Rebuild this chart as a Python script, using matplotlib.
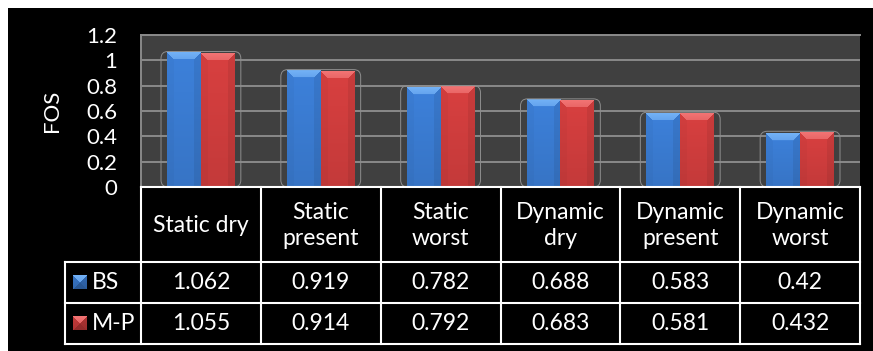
import numpy as np
import matplotlib
matplotlib.use("Agg")
import matplotlib.pyplot as plt
from matplotlib.patches import Rectangle, FancyBboxPatch
from matplotlib.colors import to_rgb

# ---- data ---------------------------------------------------------------
categories = ["Static dry", "Static\npresent", "Static\nworst",
              "Dynamic\ndry", "Dynamic\npresent", "Dynamic\nworst"]
series_names = ["BS", "M-P"]
bs_values = [1.062, 0.919, 0.782, 0.688, 0.583, 0.42]
mp_values = [1.055, 0.914, 0.792, 0.683, 0.581, 0.432]
y_ticks = [0, 0.2, 0.4, 0.6, 0.8, 1.0, 1.2]
y_tick_labels = ["0", "0.2", "0.4", "0.6", "0.8", "1", "1.2"]
y_label = "FOS"

series_values = [bs_values, mp_values]
series_colors = ["#3b7dd4", "#d23e3e"]
series_tops = ["#74b2f7", "#f27474"]

# ---- figure layout (pixels) ------------------------------------------------
W, H = 873, 351
FONT = "Lato"
plt.rcParams["font.family"] = [FONT, "DejaVu Sans"]

fig = plt.figure(figsize=(W / 100, H / 100), dpi=100, facecolor="white")

bg = fig.add_axes([0, 0, 1, 1], zorder=0)
bg.set_xlim(0, W)
bg.set_ylim(H, 0)
bg.axis("off")
bg.add_patch(Rectangle((8, 8), W - 8, H - 8, color="black", lw=0))

L, R, T, B = 141, 860, 35, 187
ax = fig.add_axes([L / W, 1 - B / H, (R - L) / W, (B - T) / H], zorder=1)
ax.set_facecolor("#404040")

n = len(categories)
bar_w = 0.283

grid_col = "#8a8a8a"
ax.set_yticks(y_ticks)
ax.set_yticklabels(y_tick_labels)
ax.set_xticks([])
ax.yaxis.grid(True, color=grid_col, lw=1.4)
ax.set_axisbelow(True)
ax.tick_params(axis="y", length=0, pad=17, labelcolor="white", labelsize=16)
for lab in ax.get_yticklabels():
    lab.set_fontfamily([FONT, "DejaVu Sans"])
for side in ["right", "bottom"]:
    ax.spines[side].set_visible(False)
for side in ["left", "top"]:
    ax.spines[side].set_color(grid_col)
    ax.spines[side].set_linewidth(1.4)


def bevel_image(color, top_color, w_px, h_px, b, bottom_face=False):
    """RGB array of a bevelled block, row 0 at the top."""
    h = max(int(round(h_px)), 2)
    w = max(int(round(w_px)), 2)
    yy, xx = np.mgrid[0:h, 0:w] + 0.5
    base = np.array(to_rgb(color))
    light = np.array(to_rgb(top_color))
    t = yy / h
    img = base[None, None, :] * (1.03 - 0.1 * t)[..., None]
    dl, dr, dt, db = xx, w - xx, yy, h - yy
    if bottom_face:
        nearest = np.minimum(np.minimum(dl, dr), np.minimum(dt, db))
    else:
        nearest = np.minimum(np.minimum(dl, dr), dt)
    inside = nearest < b
    top = inside & (dt == nearest)
    left = inside & (dl == nearest) & ~top
    right = inside & (dr == nearest) & ~top
    edge_l = bottom_face and 0.9 or 0.97
    edge_r = bottom_face and 0.8 or 0.93
    img[left] = img[left] * edge_l
    img[right] = img[right] * edge_r
    img[top] = light * (1.0 - 0.25 * (dt[top] / b))[:, None] + \
        base * (0.25 * (dt[top] / b))[:, None]
    if bottom_face:
        bot = inside & (db == nearest) & ~top & ~left & ~right
        img[bot] = base * 0.7
    return np.clip(img, 0, 1)


x = np.arange(n)
ax.set_xlim(-0.5, n - 0.5)
ax.set_ylim(0, 1.2)
px_x = (R - L) / n          # pixels per category
px_y = (B - T) / 1.2        # pixels per unit

containers = []
for k, (vals, col, top) in enumerate(zip(series_values, series_colors, series_tops)):
    offs = (k - 0.5) * bar_w
    bars = ax.bar(x + offs, vals, width=bar_w, color=col, lw=0, zorder=2)
    containers.append(bars)
    for rect in bars:
        x0, w, h = rect.get_x(), rect.get_width(), rect.get_height()
        img = bevel_image(col, top, w * px_x, h * px_y, 7)
        ax.imshow(img, extent=(x0, x0 + w, 0, h), origin="upper",
                  aspect="auto", zorder=3, interpolation="bilinear")
ax.set_xlim(-0.5, n - 0.5)
ax.set_ylim(0, 1.2)

# ---- overlay: outlines, table, labels --------------------------------------
tb = fig.add_axes([0, 0, 1, 1], zorder=3)
tb.patch.set_alpha(0)
tb.set_xlim(0, W)
tb.set_ylim(H, 0)
tb.axis("off")


def to_px(xd, yd):
    X, Y = ax.transData.transform((xd, yd))
    return X, H - Y


# faint rounded outline around each bar pair
for i in range(n):
    lb = containers[0][i]
    rb = containers[-1][i]
    xl, _ = to_px(lb.get_x(), 0)
    xr, _ = to_px(rb.get_x() + rb.get_width(), 0)
    _, ytop = to_px(0, max(c[i].get_height() for c in containers))
    tb.add_patch(FancyBboxPatch((xl - 6, ytop - 1), (xr - xl) + 12, B - ytop + 1,
                                boxstyle="round,pad=0,rounding_size=7",
                                fill=False, ec="#8e8e8e", lw=0.7, zorder=1))

# y-axis title
tb.text(52, 111, y_label, rotation=90, color="white", fontsize=16,
        ha="center", va="center")

# data table
row_y = [B, 262, 303, 344]
leg_x = 65
lw_t = 1.5
col_edges = [to_px(i - 0.5, 0)[0] for i in range(n + 1)]
tb.plot([col_edges[0], col_edges[-1]], [row_y[0]] * 2, color="white", lw=lw_t)
for yv in row_y[1:]:
    tb.plot([leg_x, col_edges[-1]], [yv, yv], color="white", lw=lw_t)
for xe in col_edges:
    tb.plot([xe, xe], [row_y[0], row_y[-1]], color="white", lw=lw_t)
tb.plot([leg_x, leg_x], [row_y[1], row_y[-1]], color="white", lw=lw_t)

fs = 16.5
for i, cat in enumerate(categories):
    cx = (col_edges[i] + col_edges[i + 1]) / 2
    tb.text(cx, (row_y[0] + row_y[1]) / 2 + 1, cat, color="white", fontsize=fs,
            ha="center", va="center", linespacing=1.3)
    for r, vals in enumerate(series_values):
        cy = (row_y[r + 1] + row_y[r + 2]) / 2
        tb.text(cx, cy, f"{vals[i]:g}", color="white", fontsize=fs,
                ha="center", va="center")

# legend keys inside the table
for r, (name, col, top) in enumerate(zip(series_names, series_colors, series_tops)):
    cy = (row_y[r + 1] + row_y[r + 2]) / 2
    img = bevel_image(col, top, 14, 14, 7, bottom_face=True)
    tb.imshow(img, extent=(73, 87, cy + 7, cy - 7), origin="upper",
              aspect="auto", zorder=4, interpolation="nearest")
    tb.text(92, cy, name, color="white", fontsize=fs, ha="left", va="center")
tb.set_xlim(0, W)
tb.set_ylim(H, 0)

fig.savefig("out.png", dpi=100, facecolor="white")
